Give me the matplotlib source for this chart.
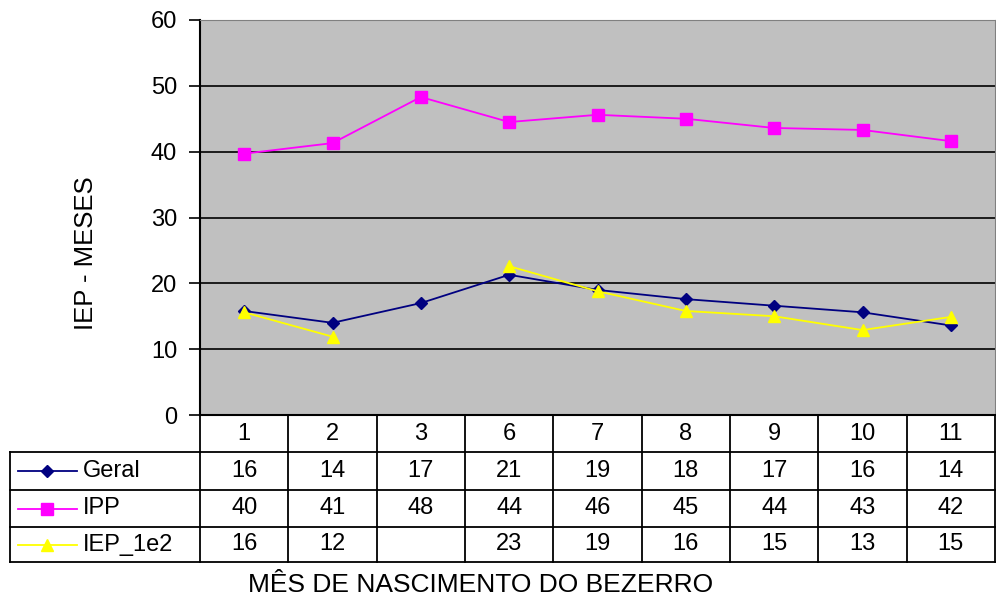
import matplotlib
matplotlib.use("Agg")
import matplotlib.pyplot as plt
import numpy as np

plt.rcParams['font.family'] = ['Liberation Sans', 'DejaVu Sans']

months = ['1', '2', '3', '6', '7', '8', '9', '10', '11']
geral = [15.8, 14.0, 17.0, 21.3, 19.0, 17.6, 16.6, 15.6, 13.6]
ipp = [39.7, 41.3, 48.3, 44.5, 45.6, 45.0, 43.6, 43.3, 41.6]
iep_1e2 = [15.6, 11.9, None, 22.6, 18.8, 15.8, 15.0, 12.9, 14.9]
series_names = ['Geral', 'IPP', 'IEP_1e2']
y_ticks = [0, 10, 20, 30, 40, 50, 60]

colors = ['#000080', '#ff00ff', '#ffff00']
markers = ['D', 's', '^']
msizes = [6, 8, 9]
FS = 17

W, H = 996, 597
fig = plt.figure(figsize=(W / 100, H / 100), dpi=100)
L, R, T, B = 200, 995, 20, 415
ax = fig.add_axes([L / W, (H - B) / H, (R - L) / W, (B - T) / H])
ax.set_facecolor('#c0c0c0')

x = np.arange(len(months))
all_series = [geral, ipp, iep_1e2]
for vals, c, m, ms in zip(all_series, colors, markers, msizes):
    y = np.array([np.nan if v is None else v for v in vals], dtype=float)
    ax.plot(x, y, color=c, lw=1.3, marker=m, markersize=ms, markeredgecolor=c,
            markerfacecolor=c, zorder=3)

ax.set_xlim(-0.5, len(months) - 0.5)
ax.set_ylim(0, 60)
ax.set_yticks(y_ticks)
ax.set_yticklabels([str(v) for v in y_ticks], fontsize=FS)
for v in y_ticks[1:-1]:
    ax.axhline(v, color='black', lw=1.2, zorder=1)
ax.tick_params(axis='y', direction='out', length=8, width=1.2, pad=8.5, colors='black')
ax.tick_params(axis='x', bottom=False, labelbottom=False)
ax.spines['left'].set_linewidth(1.5)
ax.spines['bottom'].set_linewidth(1.5)
ax.spines['top'].set_color('#808080')
ax.spines['right'].set_color('#808080')

# data table below the axes
ah = B - T
def yax(py):
    return (B - py) / ah

rows_px = [415, 452, 490, 527, 562]
trans = ax.get_xaxis_transform()
kw = dict(color='black', lw=1.3, clip_on=False, transform=trans)
xl_data = -0.5 + (10 - L) / ((R - L) / len(months))
xr_data = len(months) - 0.5
# horizontal lines
ax.plot([-0.5, xr_data], [yax(452)] * 2, **kw)
for py in rows_px[2:]:
    ax.plot([xl_data, xr_data], [yax(py)] * 2, **kw)
ax.plot([xl_data, -0.5], [yax(452)] * 2, **kw)
# vertical lines
for i in range(len(months) + 1):
    ax.plot([i - 0.5] * 2, [0, yax(562)], **kw)
ax.plot([xl_data] * 2, [yax(452), yax(562)], **kw)

# header labels
for i, m in enumerate(months):
    ax.text(i, yax((415 + 452) / 2), m, ha='center', va='center', fontsize=FS,
            transform=trans, clip_on=False)

# body
for r, (name, vals, c, m, ms) in enumerate(zip(series_names, all_series, colors, markers, msizes)):
    yc = yax((rows_px[r + 1] + rows_px[r + 2]) / 2)
    for i, v in enumerate(vals):
        if v is not None:
            ax.text(i, yc, str(int(round(v))), ha='center', va='center', fontsize=FS,
                    transform=trans, clip_on=False)
    # legend key in pixel-based figure coordinates
    yf = (H - (rows_px[r + 1] + rows_px[r + 2]) / 2) / H
    fig.add_artist(plt.Line2D([18 / W, 77 / W], [yf, yf], color=c, lw=1.3))
    fig.add_artist(plt.Line2D([47 / W], [yf], color=c, marker=m, markersize=ms,
                              markerfacecolor=c, markeredgecolor=c))
    fig.text(83 / W, yf, name, ha='left', va='center', fontsize=FS)

fig.text(481 / W, (H - 585) / H, 'MÊS DE NASCIMENTO DO BEZERRO', ha='center',
         va='center', fontsize=19)
fig.text(86 / W, (H - 253) / H, 'IEP - MESES', ha='center', va='center',
         rotation=90, fontsize=18.5)

fig.savefig('out.png', dpi=100, facecolor='white')
